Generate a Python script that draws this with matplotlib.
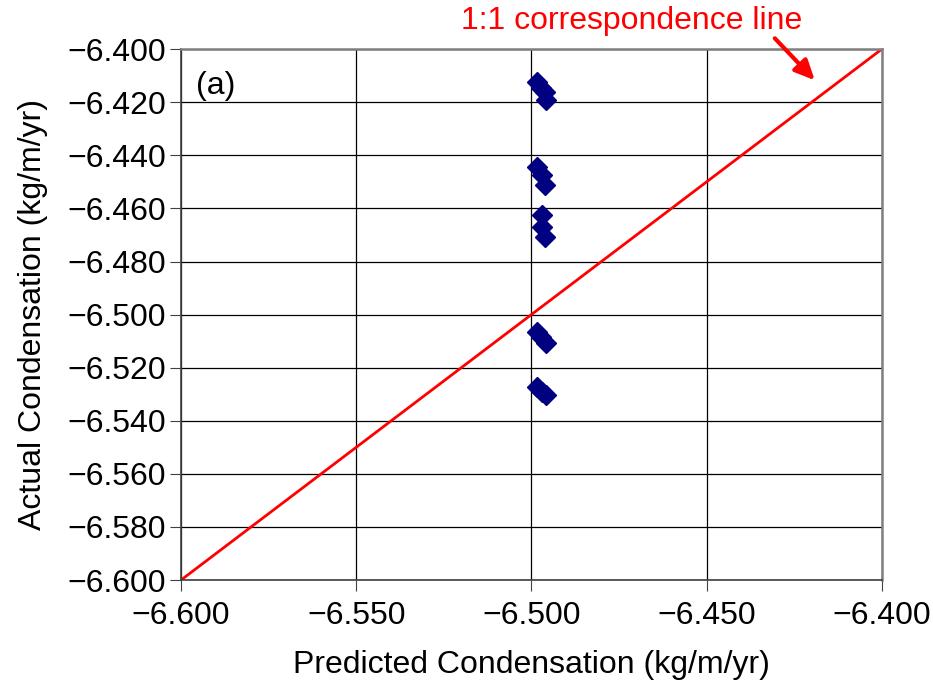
import matplotlib.pyplot as plt
import numpy as np

plt.rcParams['font.family'] = ['Liberation Sans', 'DejaVu Sans']

# predicted vs actual condensation (kg/m/yr)
predicted = np.array([-6.4984, -6.4972, -6.4961, -6.4959,
                      -6.4984, -6.4970, -6.4961,
                      -6.4970, -6.4970, -6.4961,
                      -6.4985, -6.4972, -6.4957,
                      -6.4985, -6.4970, -6.4957])
actual = np.array([-6.4124, -6.4145, -6.4162, -6.4193,
                   -6.4443, -6.4474, -6.4512,
                   -6.4625, -6.4669, -6.4707,
                   -6.5066, -6.5085, -6.5108,
                   -6.5272, -6.5290, -6.5303])

one_to_one = np.array([-6.6, -6.4])

fig = plt.figure(figsize=(9.33, 6.93), dpi=100)
ax = fig.add_axes([0.194, 0.163, 0.751, 0.766])

ax.plot(one_to_one, one_to_one, color='red', lw=2, zorder=2)
ax.plot(predicted, actual, 'D', color='#000080', markersize=10, zorder=3)

ax.set_xlim(-6.6, -6.4)
ax.set_ylim(-6.6, -6.4)
ax.set_xticks(np.arange(-6.6, -6.3999, 0.05))
ax.set_yticks(np.arange(-6.6, -6.3999, 0.02))
fmt = plt.FuncFormatter(lambda v, p: f"{v:.3f}".replace('-', '\u2212'))
ax.xaxis.set_major_formatter(fmt)
ax.yaxis.set_major_formatter(fmt)
ax.tick_params(labelsize=23, length=8, color='#404040', direction='out', pad=3)
ax.tick_params(axis='x', pad=7)
ax.grid(True, color='black', lw=0.9)
for side in ['top', 'right']:
    ax.spines[side].set_color('#808080')
    ax.spines[side].set_linewidth(1.8)
for side in ['left', 'bottom']:
    ax.spines[side].set_color('#404040')
    ax.spines[side].set_linewidth(1.2)

ax.set_xlabel('Predicted Condensation (kg/m/yr)', fontsize=23, labelpad=14)
ax.set_ylabel('Actual Condensation (kg/m/yr)', fontsize=23, labelpad=14)

ax.text(0.022, 0.93, '(a)', transform=ax.transAxes, fontsize=23, va='center')
ax.text(-6.4713, -6.3893, '1:1 correspondence line', ha='center', va='center',
        fontsize=23, color='red', clip_on=False)
ax.annotate('', xy=(-6.4191, -6.4117), xytext=(-6.4305, -6.3959),
            annotation_clip=False,
            arrowprops=dict(arrowstyle='-|>,head_length=0.6,head_width=0.28', color='red',
                            lw=3, mutation_scale=20, shrinkA=0, shrinkB=0))

fig.savefig('out.png', dpi=100)
